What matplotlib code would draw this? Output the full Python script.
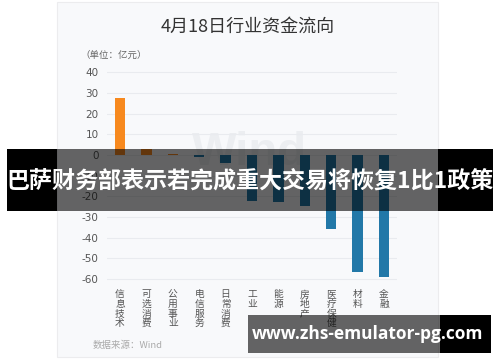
import matplotlib
matplotlib.use('Agg')
import matplotlib.pyplot as plt
from matplotlib.patches import Rectangle

plt.rcParams['font.family'] = ['Noto Sans CJK SC', 'DejaVu Sans']

TITLE = '4月18日行业资金流向'
UNIT = '（单位：亿元）'
SOURCE = '数据来源：Wind'
BANNER = '巴萨财务部表示若完成重大交易将恢复1比1政策'
SITE = 'www.zhs-emulator-pg.com'

categories = ['信息技术', '可选消费', '公用事业', '电信服务', '日常消费', '工业',
              '能源', '房地产', '医疗保健', '材料', '金融']
values = [27.5, 3.0, 0.6, -0.8, -4.0, -22.0, -22.5, -24.5, -36.0, -56.5, -59.0]
yticks = [40, 30, 20, 10, 0, -10, -20, -30, -40, -50, -60]

ORANGE = '#f7891e'
BLUE = '#2278a8'
W, H = 500, 362


def px(x, y, w, h):
    # pixel box (from top-left) -> figure fraction
    return (x / W, 1 - (y + h) / H, w / W, h / H)


fig = plt.figure(figsize=(5, 3.62), dpi=100, facecolor='white')

# card background
x0, y0, w0, h0 = px(57, 2, 381, 355)
fig.patches.append(Rectangle((x0, y0), w0, h0, transform=fig.transFigure,
                             facecolor='#f8f9fb', edgecolor='#ececee', lw=0.8, zorder=-2))

fig.text(247.5 / W, 1 - 27 / H, TITLE, ha='center', va='center', fontsize=13, color='#333333')
fig.text(80 / W, 1 - 55 / H, UNIT, ha='left', va='center', fontsize=6.8, color='#666666')
fig.text(93 / W, 1 - 345 / H, SOURCE, ha='left', va='center', fontsize=6.8, color='#aaaaaa')

# faint Wind watermark
fig.text(250 / W, 1 - 153 / H, 'Wind', ha='center', va='center', fontsize=34,
         fontweight='bold', color='#eceef1', family='Liberation Sans', zorder=-1)

ax = fig.add_axes(px(106.8, 70.3, 290.4, 210.8))
ax.set_zorder(2)
ax.set_facecolor('none')
colors = [ORANGE if v >= 0 else BLUE for v in values]
ax.bar(range(len(values)), values, width=0.4, color=colors, zorder=3)
ax.set_xlim(-0.5, len(values) - 0.5)
ax.set_ylim(-61, 41)
ax.set_yticks(yticks)
ax.set_yticklabels([str(t) for t in yticks], fontsize=7.5, color='#555555',
                   family='DejaVu Sans')
ax.set_xticks(range(len(categories)))
ax.set_xticklabels(['\n'.join(c) for c in categories], fontsize=7, color='#555555',
                   va='top', linespacing=0.95)
ax.tick_params(axis='both', length=0)
ax.tick_params(axis='y', pad=6)
ax.tick_params(axis='x', pad=6)
ax.grid(axis='y', color='#e9ebef', lw=0.8, zorder=0)
for s in ax.spines.values():
    s.set_visible(False)

# headline banner
for bx, bw, a in [(7, 50, 1.0), (57, 381, 0.6), (438, 55, 1.0)]:
    r = px(bx, 149, bw, 62)
    fig.patches.append(Rectangle((r[0], r[1]), r[2], r[3], transform=fig.transFigure,
                                 facecolor='black', alpha=a, lw=0, zorder=10))
fig.text(250 / W, 1 - 181 / H, BANNER, ha='center', va='center', fontsize=16.6,
         fontweight='bold', color='white', zorder=11)

# site box
for bx, bw, a in [(248, 192, 0.6), (440, 51, 1.0)]:
    r = px(bx, 315, bw, 38)
    fig.patches.append(Rectangle((r[0], r[1]), r[2], r[3], transform=fig.transFigure,
                                 facecolor='black', alpha=a, lw=0, zorder=10))
fig.text(368 / W, 1 - 334 / H, SITE, ha='center', va='center', fontsize=12.5,
         fontweight='bold', color='white', family='Open Sans', zorder=11)

fig.savefig('out.png', dpi=100, facecolor='white')
